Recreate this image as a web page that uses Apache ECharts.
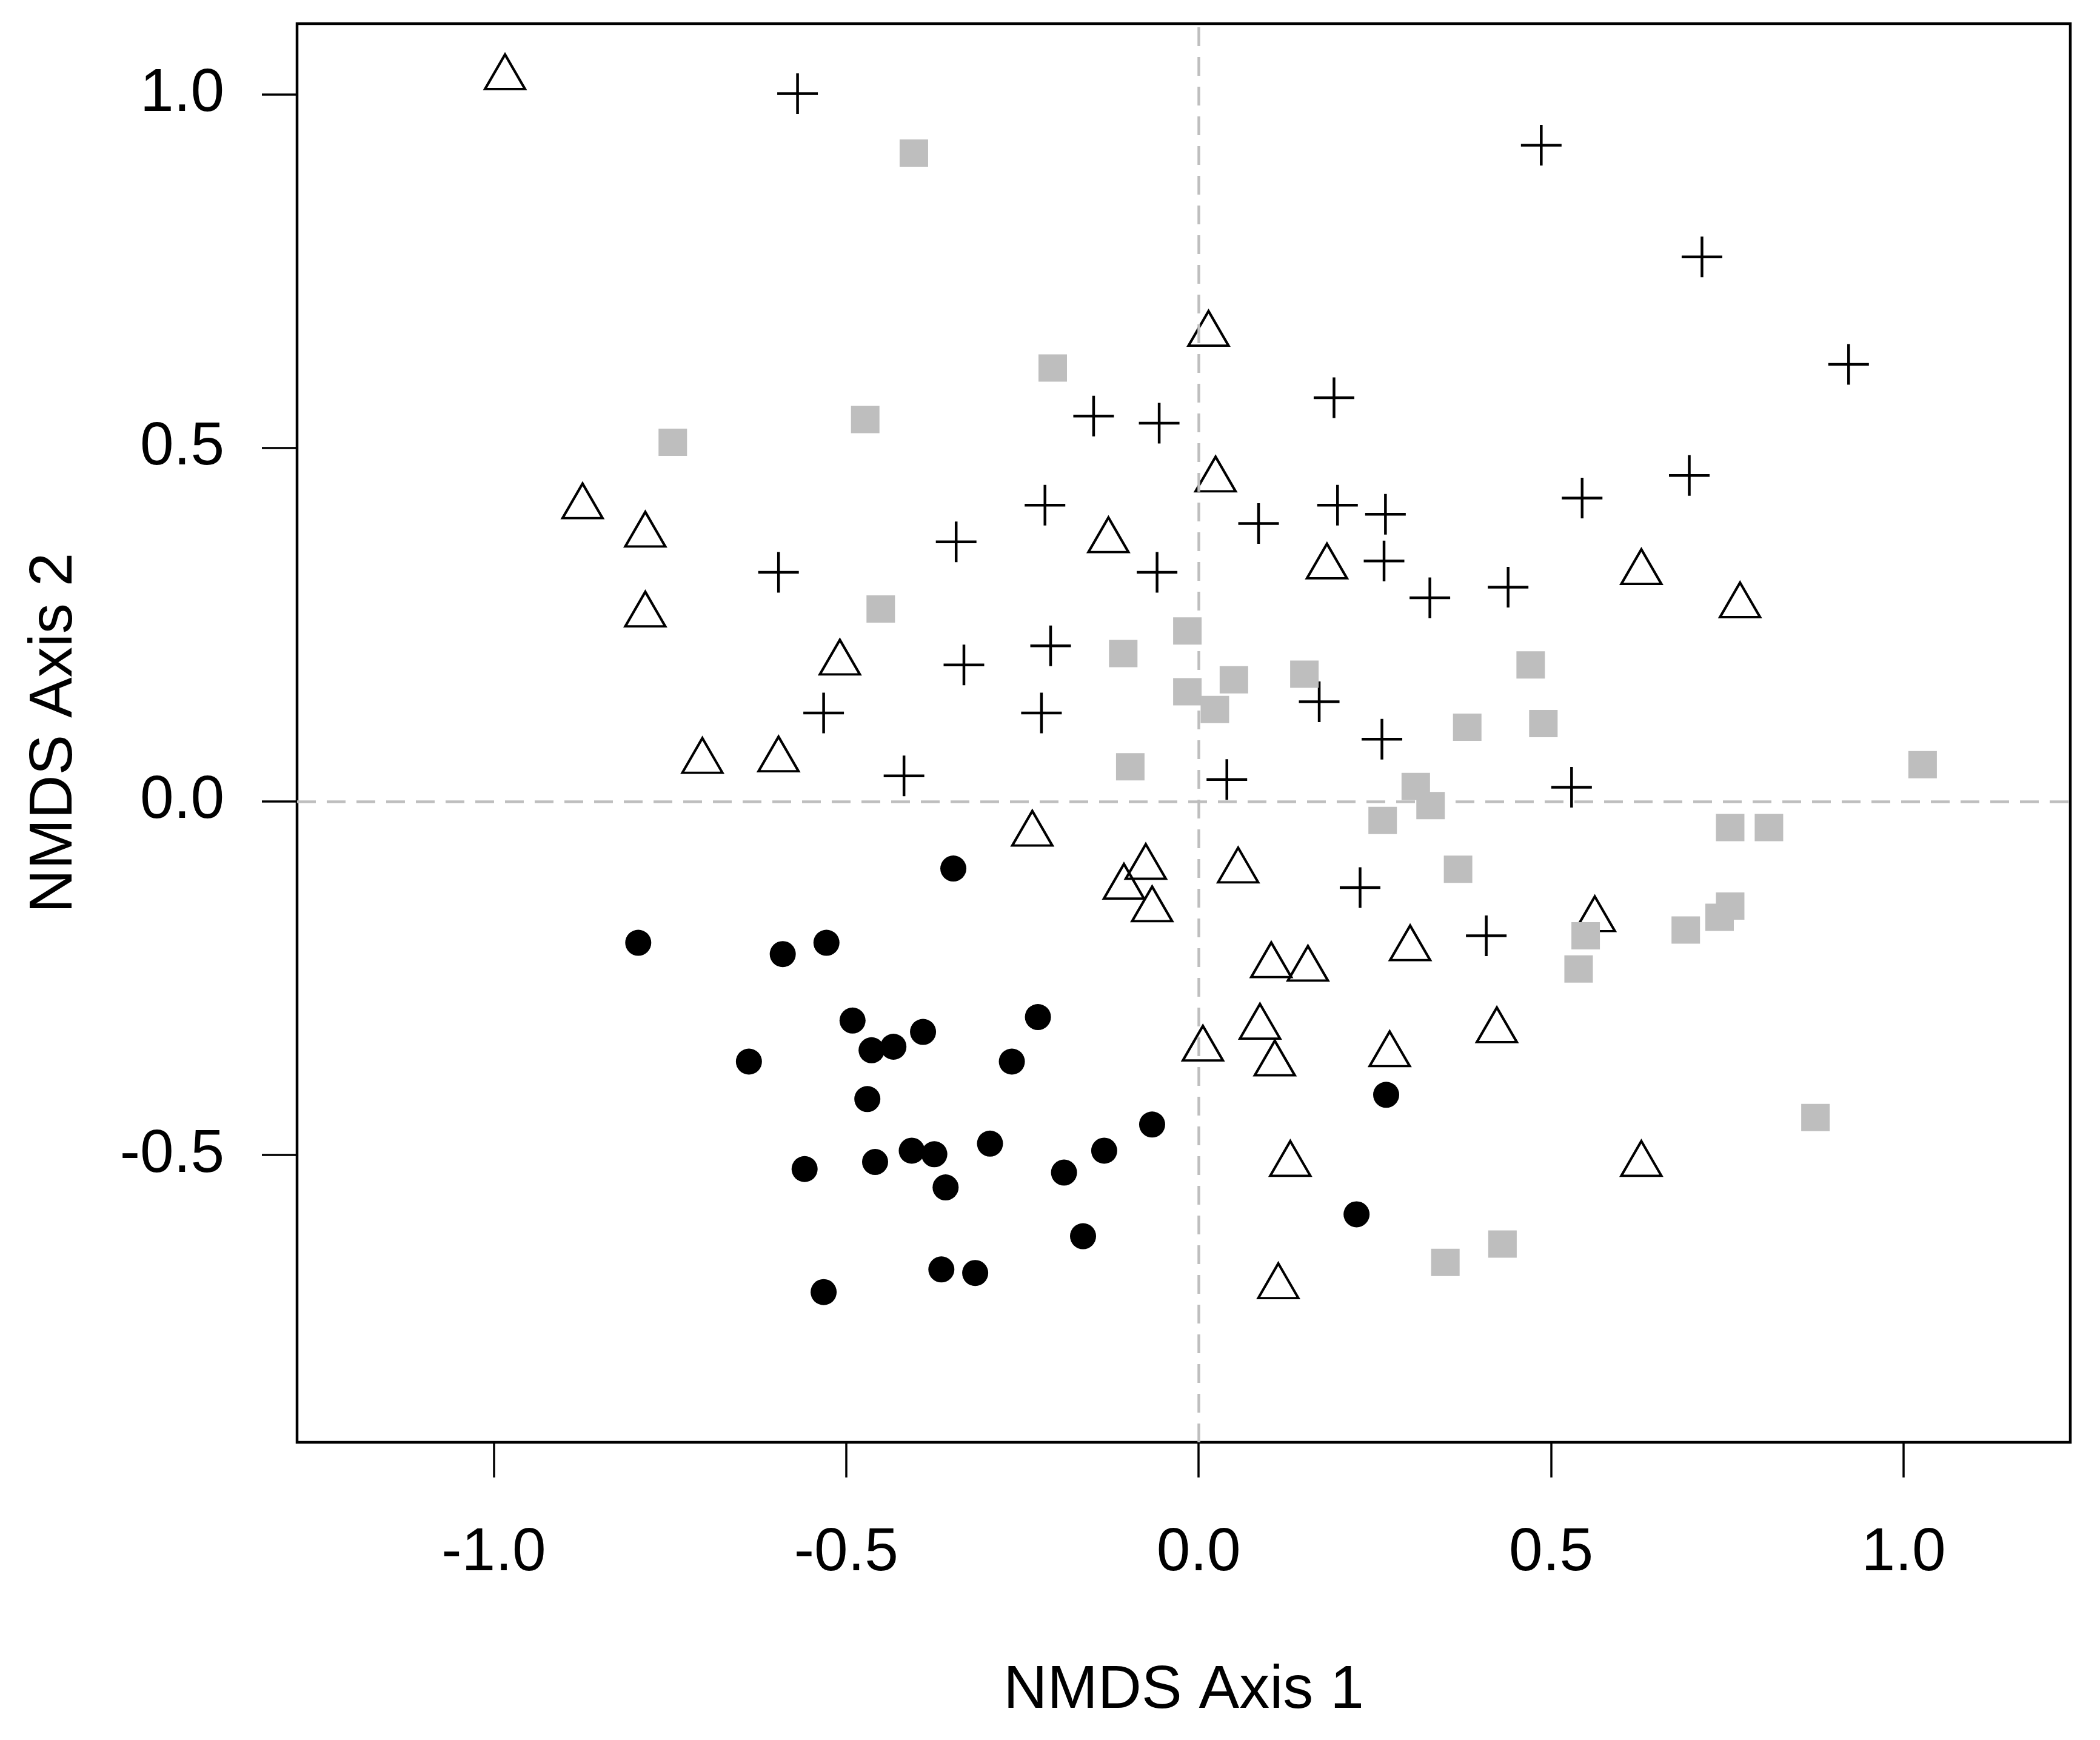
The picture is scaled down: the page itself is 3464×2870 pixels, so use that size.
<!DOCTYPE html>
<html>
<head>
<meta charset="utf-8">
<title>NMDS</title>
<script src="https://cdn.jsdelivr.net/npm/echarts@6/dist/echarts.min.js"></script>
<style>
body{margin:0;background:#fff;}
#chart{width:3464px;height:2870px;}
</style>
</head>
<body>
<div id="chart"></div>
<script>
/* ticks */
var xTicks = [-1, -0.5, 0, 0.5, 1];
var yTicks = [-0.5, 0, 0.5, 1];

/* open triangles */
var triX = [-0.984, 0.014, 0.024, -0.874, -0.785, -0.128, 0.182, -0.785, 0.628, 0.768, -0.509, -0.704, -0.596, -0.236, -0.075, -0.106, -0.066, 0.056, 0.562, 0.300, 0.103, 0.155, 0.087, 0.006, 0.108, 0.271, 0.423, 0.130, 0.628, 0.113];
var triY = [1.032, 0.669, 0.463, 0.425, 0.385, 0.377, 0.340, 0.272, 0.332, 0.285, 0.204, 0.065, 0.067, -0.038, -0.085, -0.113, -0.145, -0.090, -0.159, -0.200, -0.224, -0.229, -0.311, -0.342, -0.363, -0.350, -0.316, -0.505, -0.505, -0.678];

/* plus signs */
var plusX = [-0.569, 0.486, 0.714, 0.922, 0.192, -0.149, -0.056, 0.696, 0.544, -0.218, 0.197, 0.265, 0.085, -0.344, 0.263, -0.596, -0.059, 0.439, 0.328, -0.210, -0.333, 0.171, -0.532, -0.223, 0.260, -0.418, 0.040, 0.529, 0.229, 0.408];
var plusY = [1.001, 0.928, 0.770, 0.618, 0.571, 0.545, 0.535, 0.461, 0.429, 0.419, 0.419, 0.406, 0.393, 0.367, 0.340, 0.324, 0.324, 0.303, 0.288, 0.220, 0.193, 0.141, 0.125, 0.125, 0.088, 0.036, 0.031, 0.020, -0.122, -0.190];

/* grey squares */
var sqX = [-0.404, -0.207, -0.473, -0.746, -0.451, -0.016, -0.107, 0.471, 0.150, 0.050, -0.016, 0.023, 0.489, 0.381, 1.027, -0.097, 0.308, 0.329, 0.261, 0.754, 0.809, 0.368, 0.754, 0.739, 0.691, 0.549, 0.539, 0.875, 0.431, 0.350];
var sqY = [0.917, 0.613, 0.540, 0.508, 0.272, 0.241, 0.209, 0.193, 0.180, 0.172, 0.155, 0.130, 0.110, 0.105, 0.052, 0.049, 0.021, -0.006, -0.027, -0.037, -0.037, -0.096, -0.148, -0.164, -0.182, -0.190, -0.237, -0.447, -0.626, -0.652];

/* black dots */
var dotX = [-0.348, -0.795, -0.590, -0.528, -0.491, -0.228, -0.391, -0.464, -0.433, -0.638, -0.265, -0.470, -0.066, -0.407, -0.375, -0.296, -0.134, -0.559, -0.459, -0.191, -0.359, -0.164, -0.365, -0.317, -0.532, 0.266, 0.224];
var dotY = [-0.095, -0.200, -0.216, -0.200, -0.310, -0.305, -0.326, -0.352, -0.347, -0.368, -0.368, -0.421, -0.457, -0.494, -0.499, -0.484, -0.494, -0.520, -0.510, -0.525, -0.546, -0.615, -0.662, -0.667, -0.694, -0.415, -0.584];

function pairs(xs, ys){
	return xs.map(function(x, i){ return [x, ys[i]]; });
}

var font = "'Liberation Sans', Arial, sans-serif";

var myChart = echarts.init(document.getElementById('chart'));
var option = {
	backgroundColor: '#fff',
	animation: false,
	grid: {
		left: 490, right: 49, top: 39, bottom: 491,
		show: true, borderColor: '#000', borderWidth: 4.5
	},
	xAxis: {
		type: 'value',
		min: -1.279, max: 1.2365,
		name: 'NMDS Axis 1',
		nameLocation: 'middle',
		nameGap: 360,
		nameTextStyle: { fontSize: 100, color: '#000', fontFamily: font },
		axisLine: { show: false, onZero: false },
		splitLine: { show: false },
		axisTick: { show: true, customValues: xTicks, length: 58, lineStyle: { color: '#000', width: 3.5 } },
		axisLabel: {
			customValues: xTicks, margin: 133, fontSize: 100, color: '#000', fontFamily: font,
			formatter: function(v){ return v.toFixed(1); }
		}
	},
	yAxis: {
		type: 'value',
		min: -0.9065, max: 1.100,
		name: 'NMDS Axis 2',
		nameLocation: 'middle',
		nameGap: 350,
		nameTextStyle: { fontSize: 100, color: '#000', fontFamily: font },
		axisLine: { show: false, onZero: false },
		splitLine: { show: false },
		axisTick: { show: true, customValues: yTicks, length: 58, lineStyle: { color: '#000', width: 3.5 } },
		axisLabel: {
			customValues: yTicks, margin: 120, fontSize: 100, color: '#000', fontFamily: font,
			formatter: function(v){ return v.toFixed(1); }
		}
	},
	series: [
		{
			// zero lines
			type: 'scatter', data: [], z: 1, silent: true,
			markLine: {
				silent: true, symbol: ['none', 'none'], label: { show: false },
				lineStyle: { color: '#BEBEBE', type: [31, 18], width: 4.5 },
				data: [{ xAxis: 0 }, { yAxis: 0 }]
			}
		},
		{
			type: 'scatter', z: 2, silent: true,
			data: pairs(triX, triY),
			symbol: 'triangle', symbolSize: [66, 57],
			itemStyle: { color: 'transparent', borderColor: '#000', borderWidth: 4, opacity: 1 }
		},
		{
			type: 'scatter', z: 2, silent: true,
			data: pairs(plusX, plusY),
			symbol: 'path://M0,-1L0,1M-1,0L1,0', symbolSize: 67,
			itemStyle: { color: 'none', borderColor: '#000', borderWidth: 4.5, opacity: 1 }
		},
		{
			type: 'scatter', z: 2, silent: true,
			data: pairs(dotX, dotY),
			symbol: 'circle', symbolSize: 43,
			itemStyle: { color: '#000', opacity: 1 }
		},
		{
			type: 'scatter', z: 3, silent: true,
			data: pairs(sqX, sqY),
			symbol: 'rect', symbolSize: [47, 45],
			itemStyle: { color: '#BEBEBE', opacity: 1 }
		}
	]
};
myChart.setOption(option);
</script>
</body>
</html>
